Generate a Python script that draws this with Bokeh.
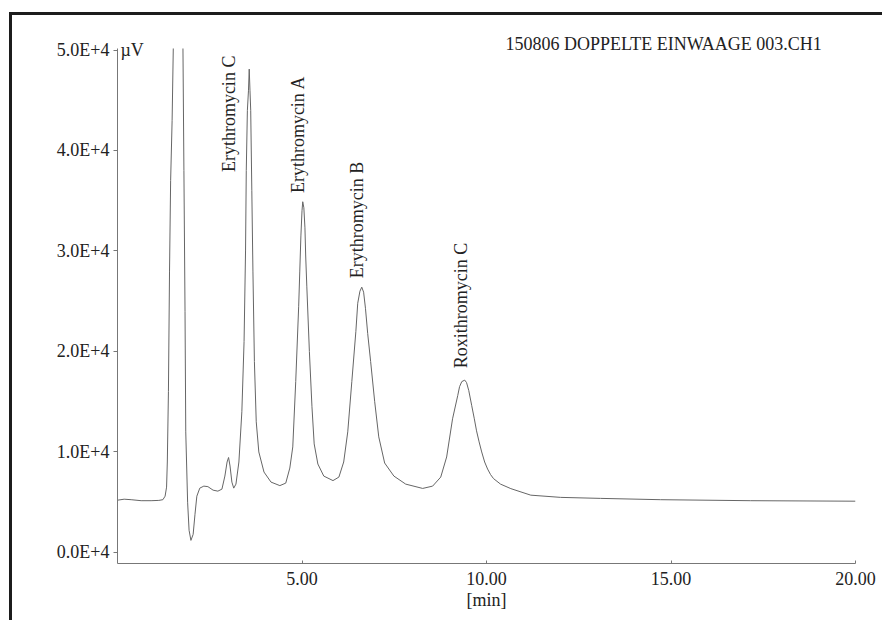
import numpy as np
from bokeh.plotting import figure
from bokeh.models import Range1d, FixedTicker, Title, ColumnDataSource
from bokeh.embed import file_html
from bokeh.resources import INLINE
from bokeh.core.properties import value

# ---- data ----
time_min = [0.00, 0.18, 0.37, 0.64, 0.91, 1.12, 1.23, 1.29, 1.33, 1.35, 1.38, 1.41, 1.44,
            1.48, 1.52, 1.58, 1.67, 1.73, 1.77, 1.80, 1.83, 1.85, 1.90, 1.94, 1.99, 2.05,
            2.10, 2.15, 2.23, 2.34, 2.45, 2.59, 2.72, 2.83, 2.91, 2.97, 3.01, 3.05, 3.10,
            3.15, 3.21, 3.29, 3.37, 3.43, 3.47, 3.49, 3.52, 3.55, 3.57, 3.59, 3.61, 3.64,
            3.67, 3.71, 3.76, 3.83, 3.97, 4.16, 4.40, 4.56, 4.67, 4.75, 4.83, 4.91, 4.94,
            4.97, 5.00, 5.02, 5.05, 5.08, 5.10, 5.13, 5.20, 5.27, 5.33, 5.43, 5.59, 5.84,
            6.00, 6.13, 6.24, 6.35, 6.46, 6.51, 6.57, 6.62, 6.67, 6.72, 6.78, 6.86, 6.97,
            7.08, 7.24, 7.49, 7.81, 8.27, 8.54, 8.76, 8.92, 9.08, 9.22, 9.27, 9.33, 9.41,
            9.46, 9.52, 9.60, 9.67, 9.73, 9.80, 9.87, 9.95, 10.03, 10.11, 10.19, 10.38,
            10.66, 11.20, 12.01, 13.09, 14.72, 17.16, 20.00]
signal_uv = [5200, 5300, 5250, 5150, 5150, 5180, 5250, 5600, 6500, 9000, 16000, 28000, 37000,
             43000, 52000, 65000, 72000, 65000, 52000, 38000, 24000, 12000, 5000, 2200, 1200, 1800,
             3800, 5600, 6400, 6600, 6550, 6200, 6100, 6300, 7600, 9000, 9450, 8600, 7000,
             6400, 6800, 9000, 14000, 21000, 30000, 38000, 44000, 46000, 48100, 46000, 44000, 36000,
             28000, 19000, 13000, 10000, 8000, 7000, 6650, 6900, 8400, 10500, 17000, 24500, 28000,
             31500, 34000, 34900, 34300, 32300, 29500, 26500, 20000, 14500, 10800, 8800, 7600, 7150,
             7500, 9000, 12000, 17000, 22000, 24800, 26000, 26400, 25900, 24300, 21800, 19000, 15000,
             11500, 8900, 7600, 6800, 6370, 6600, 7500, 9500, 13300, 15600, 16500, 17000, 17150,
             16900, 16100, 14600, 13300, 12100, 11000, 10000, 9000, 8300, 7750, 7350, 6800,
             6350, 5700, 5480, 5380, 5250, 5150, 5100]

y_ticks = [0, 10000, 20000, 30000, 40000, 50000]
y_tick_labels = ["0.0E+4", "1.0E+4", "2.0E+4", "3.0E+4", "4.0E+4", "5.0E+4"]
x_ticks = [5, 10, 15, 20]
x_tick_labels = ["5.00", "10.00", "15.00", "20.00"]

peak_names = ["Erythromycin C", "Erythromycin A", "Erythromycin B", "Roxithromycin C"]
peak_label_time = [3.03, 4.90, 6.50, 9.31]
peak_label_signal = [37850, 35760, 27290, 18330]

title_text = "150806 DOPPELTE EINWAAGE 003.CH1"
y_unit = "\u00b5V"
x_unit = "[min]"

FONT = "Liberation Serif"
TXT = "#222222"
AX = "#777777"

p = figure(width=873, height=608, output_backend="svg", toolbar_location=None,
           x_range=Range1d(0, 20), y_range=Range1d(-1100, 50150),
           min_border_left=105, min_border_right=30, min_border_top=33, min_border_bottom=60)
p.margin = (12, 0, 0, 9)
p.styles = {"border-top": "3px solid #1c1c1c", "border-left": "3px solid #1c1c1c"}
p.grid.visible = False
p.outline_line_color = None
p.background_fill_color = "white"

p.line(time_min, signal_uv, line_color="#666666", line_width=1)

# axes
xa = p.xaxis[0]
xa.ticker = FixedTicker(ticks=x_ticks)
xa.major_label_overrides = {t: l for t, l in zip(x_ticks, x_tick_labels)}
xa.minor_tick_line_color = None
xa.major_tick_in = 3
xa.major_tick_out = 0
xa.major_label_standoff = 8
xa.axis_line_color = AX
xa.major_tick_line_color = AX
xa.axis_label = x_unit
xa.axis_label_standoff = 2
xa.axis_label_text_font = FONT
xa.axis_label_text_font_style = "normal"
xa.axis_label_text_font_size = "18px"
xa.axis_label_text_color = TXT
xa.major_label_text_font = FONT
xa.major_label_text_font_size = "18px"
xa.major_label_text_color = TXT

ya = p.yaxis[0]
ya.ticker = FixedTicker(ticks=y_ticks)
ya.major_label_overrides = {t: l for t, l in zip(y_ticks, y_tick_labels)}
ya.minor_tick_line_color = None
ya.major_tick_in = 0
ya.major_tick_out = 4
ya.major_label_standoff = 4
ya.axis_line_color = AX
ya.major_tick_line_color = AX
ya.major_label_text_font = FONT
ya.major_label_text_font_size = "18px"
ya.major_label_text_color = TXT

# peak labels (rotated)
src = ColumnDataSource(dict(x=peak_label_time, y=peak_label_signal, t=peak_names))
p.text(x="x", y="y", text="t", source=src, angle=np.pi / 2, text_align="left",
       text_baseline="middle", text_font=value(FONT), text_font_size="18px", text_color=TXT)

# file name and unit in the top panel
p.title = Title(text=title_text, align="left", offset=388, standoff=-10,
                text_font=FONT, text_font_size="18px", text_font_style="normal",
                text_color=TXT)
p.add_layout(Title(text=y_unit, align="left", offset=3, standoff=-22,
                   text_font=FONT, text_font_size="18px", text_font_style="normal",
                   text_color=TXT), "above")

open("out.html", "w").write(file_html(p, INLINE))
